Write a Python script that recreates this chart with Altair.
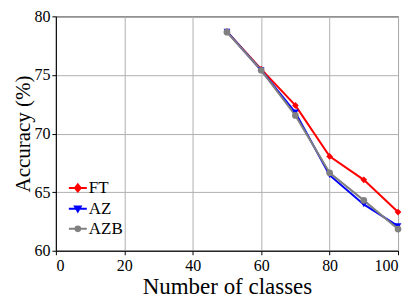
import altair as alt
import pandas as pd

classes = [50, 60, 70, 80, 90, 100]
ft = [78.7, 75.5, 72.4, 68.05, 66.05, 63.3]
az = [78.7, 75.4, 71.8, 66.45, 63.95, 62.1]
azb = [78.65, 75.4, 71.55, 66.65, 64.3, 61.85]
series = ["FT", "AZ", "AZB"]
colors = ["#ff0000", "#0000ff", "#808080"]
shapes = ["diamond", "triangle-down", "circle"]
x_ticks = [0, 20, 40, 60, 80, 100]
y_ticks = [60, 65, 70, 75, 80]

rows = []
for name, vals in zip(series, [ft, az, azb]):
    for c, v in zip(classes, vals):
        rows.append({"classes": c, "acc": v, "method": name})
df = pd.DataFrame(rows)

FONT = "Liberation Serif"

xenc = alt.X("classes:Q", scale=alt.Scale(domain=[0, 100], nice=False),
             axis=alt.Axis(values=x_ticks, title="Number of classes", titlePadding=2,
                           titleFontSize=23))
yenc = alt.Y("acc:Q", scale=alt.Scale(domain=[60, 80], nice=False, zero=False),
             axis=alt.Axis(values=y_ticks, title="Accuracy (%)", titlePadding=0,
                           labelPadding=2, titleFontSize=21))

# legend symbols: a line segment plus the marker
legend_shapes = [
    "M-1,0H1M0,-0.4L0.32,0L0,0.4L-0.32,0Z",
    "M-1,0H1M-0.32,-0.26L0.32,-0.26L0,0.3Z",
    "M-1,0H1M0.26,0A0.26,0.26,0,1,1,-0.26,0A0.26,0.26,0,1,1,0.26,0Z",
]
legend_y = [162, 183, 203]

cscale = alt.Scale(domain=series, range=colors)

lines = alt.Chart(df).mark_line(strokeWidth=2).encode(
    x=xenc, y=yenc, color=alt.Color("method:N", scale=cscale, legend=None))
points = alt.Chart(df).mark_point(filled=True, size=45, opacity=1).encode(
    x=xenc, y=yenc,
    color=alt.Color("method:N", scale=cscale, legend=None),
    shape=alt.Shape("method:N", scale=alt.Scale(domain=series, range=shapes), legend=None))

layers = [lines, points]
for name, col, path, ly in zip(series, colors, legend_shapes, legend_y):
    lg = alt.Legend(
        title=None, orient="none", legendX=12, legendY=ly,
        labelFont=FONT, labelFontSize=17, labelColor="black", labelOffset=1,
        symbolSize=324, symbolType=path, symbolOpacity=1, symbolStrokeWidth=2,
        symbolFillColor=col, symbolStrokeColor=col, padding=0,
    )
    sc = alt.Scale(domain=[name], range=[col])
    layers.append(
        alt.Chart(df).transform_filter(alt.datum.method == name)
        .mark_point(filled=True, opacity=0).encode(
            x=xenc, y=yenc,
            fill=alt.Fill("method:N", scale=sc, legend=lg),
            stroke=alt.Stroke("method:N", scale=sc, legend=lg))
    )

chart = alt.layer(*layers).resolve_scale(fill="independent", stroke="independent").properties(
    width=343, height=235,
    autosize=alt.AutoSizeParams(type="none"),
    padding={"left": 48, "top": 8, "right": 10, "bottom": 50},
).configure_view(stroke="black", strokeWidth=1).configure_axis(
    labelFont=FONT, labelFontSize=16, labelColor="black", labelPadding=3,
    titleFont=FONT, titleFontWeight="normal", titleColor="black",
    domainColor="black", tickColor="black", tickSize=4,
    gridColor="#b0b0b0", gridWidth=1, gridOpacity=1,
)

chart.save("out.html", embed_options={"renderer": "svg", "actions": False})
